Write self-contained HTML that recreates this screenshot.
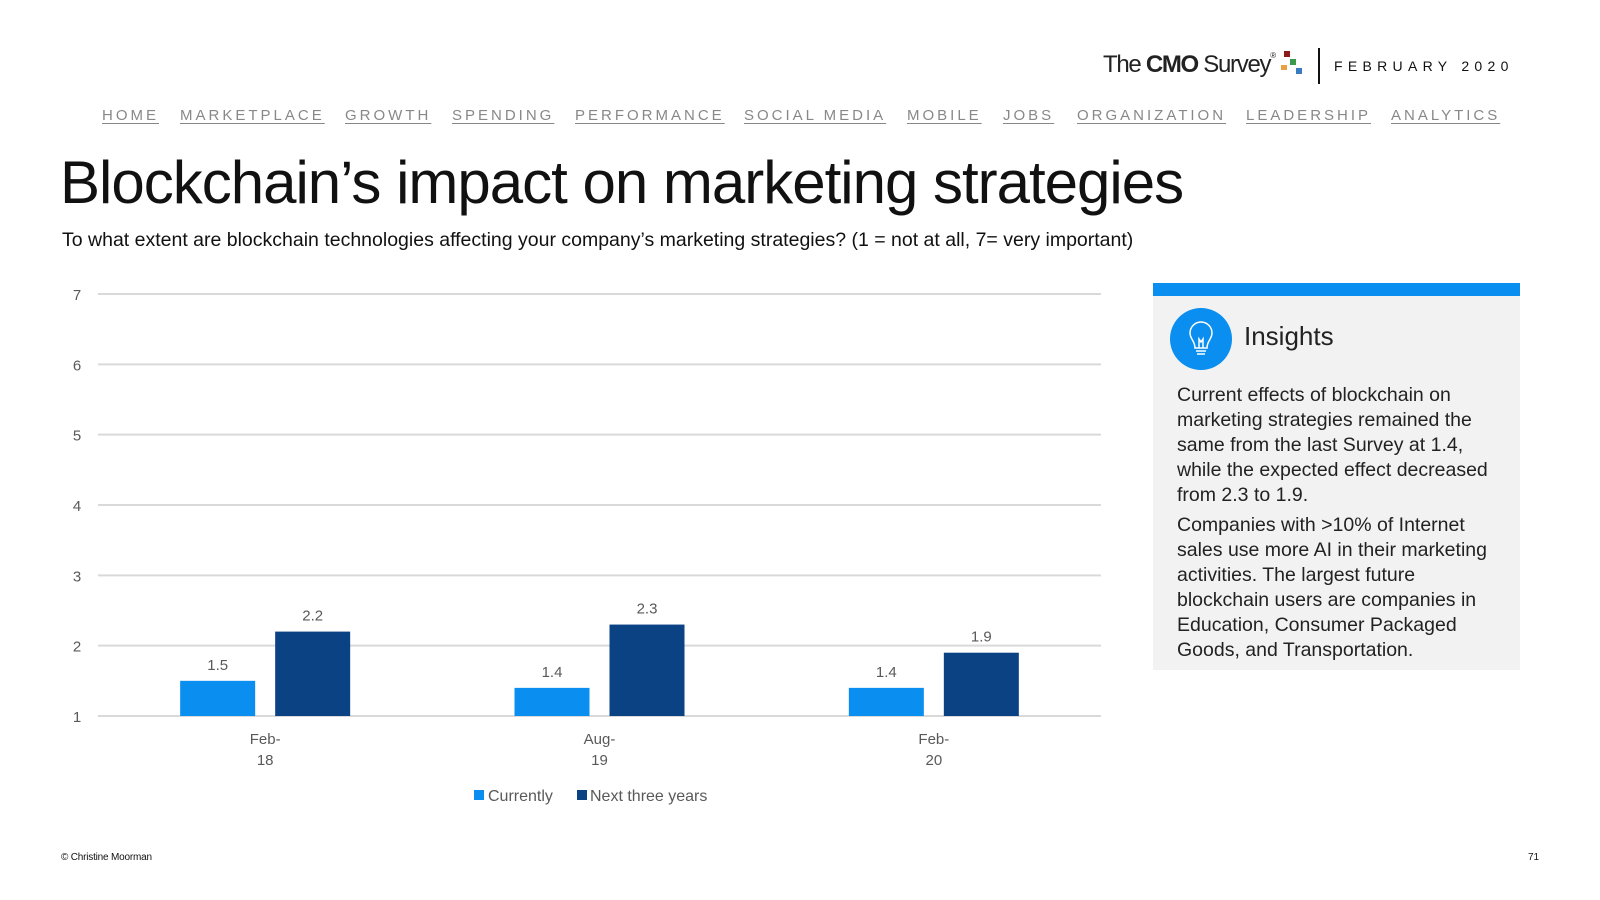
<!DOCTYPE html>
<html><head><meta charset="utf-8"><style>
body{margin:0;width:1600px;height:900px;background:#fff;font-family:"Liberation Sans",sans-serif;position:relative;overflow:hidden}
.a{position:absolute;white-space:nowrap}
.nav{top:107px;font-size:15px;letter-spacing:3px;color:#888;text-decoration:underline;text-underline-offset:3px}
</style></head><body>
<div class="a" style="left:1103px;top:51px;font-size:24px;letter-spacing:-1.3px;color:#222">The <b>CMO</b> Survey<span style="font-size:8px;vertical-align:top">®</span></div>
<div class="a" style="left:1278px;top:51px;width:30px;height:26px">
<div class="a" style="left:6px;top:0;width:6px;height:6px;background:#8b1a1a"></div>
<div class="a" style="left:12px;top:8px;width:6px;height:6px;background:#3a9a4a"></div>
<div class="a" style="left:3px;top:14px;width:6px;height:5px;background:#e8a040"></div>
<div class="a" style="left:18px;top:17px;width:6px;height:6px;background:#3a7ac0"></div></div>
<div class="a" style="left:1318px;top:48px;width:2px;height:36px;background:#111"></div>
<div class="a" style="left:1334px;top:58px;font-size:14px;letter-spacing:5.3px;color:#111">FEBRUARY 2020</div>
<div id="nav"></div>
<div class="a" style="left:60px;top:148px;font-size:60px;letter-spacing:-1px;color:#111">Blockchain’s impact on marketing strategies</div>
<div class="a" style="left:62px;top:229px;font-size:19.5px;color:#111">To what extent are blockchain technologies affecting your company’s marketing strategies? (1 = not at all, 7= very important)</div>
<svg class="a" style="left:0;top:0" width="1600" height="900" id="chart"></svg>
<div class="a" style="left:1153px;top:283px;width:367px;height:387px;background:#f2f2f2">
<div class="a" style="left:0;top:0;width:367px;height:13px;background:#0a8ef0"></div>
<div class="a" style="left:17px;top:25px;width:62px;height:62px;border-radius:50%;background:#0a8ef0">
<svg width="62" height="62"><path d="M25 40 C25 33 20 31 20 25 A11 11 0 0 1 42 25 C42 31 37 33 37 40 Z M26 43 H36 M27 46 H35 M29 40 L29 31 L31 34 L33 31 L33 40" fill="none" stroke="#fff" stroke-width="1.5"/></svg></div>
<div class="a" style="left:91px;top:38px;font-size:26px;color:#222">Insights</div>
<div class="a" style="left:24px;top:100px;width:335px;font-size:19.5px;line-height:25px;color:#222;white-space:normal">
<p style="margin:0 0 5px">Current effects of blockchain on marketing strategies remained the same from the last Survey at 1.4, while the expected effect decreased from 2.3 to 1.9.</p>
<p style="margin:0">Companies with &gt;10% of Internet sales use more AI in their marketing activities. The largest future blockchain users are companies in Education, Consumer Packaged Goods, and Transportation.</p></div></div>
<div class="a" style="left:61px;top:852px;font-size:10px;letter-spacing:-0.2px;color:#111">© Christine Moorman</div>
<div class="a" style="left:1528px;top:852px;font-size:10px;color:#111">71</div>
<script>
const navItems=["HOME","MARKETPLACE","GROWTH","SPENDING","PERFORMANCE","SOCIAL MEDIA","MOBILE","JOBS","ORGANIZATION","LEADERSHIP","ANALYTICS"];
const navX=[102,180,345,452,575,744,907,1003,1077,1246,1391];
navItems.forEach((t,i)=>{const d=document.createElement('div');d.className='a nav';d.style.left=navX[i]+'px';d.textContent=t;


document.getElementById('nav').appendChild(d);});

const categories=[["Feb-","18"],["Aug-","19"],["Feb-","20"]];
const currently=[1.5,1.4,1.4];
const nextThree=[2.2,2.3,1.9];
const yTicks=[1,2,3,4,5,6,7];
const svg=document.getElementById('chart');const NS='http://www.w3.org/2000/svg';
const x0=98,x1=1101,yB=716,yT=294;
const y=v=>yB-(v-1)/(6)*(yB-yT);
const cw=(x1-x0)/categories.length;const cx=i=>x0+cw*(i+0.5);
function el(t,a,txt){const e=document.createElementNS(NS,t);for(const k in a)e.setAttribute(k,a[k]);if(txt!=null)e.textContent=txt;svg.appendChild(e);return e;}
yTicks.forEach(v=>{
const g=el('line',{x1:x0,x2:x1,y1:y(v),y2:y(v),stroke:'#d9d9d9','stroke-width':2});


const t=el('text',{x:77,y:y(v)+6,'font-size':15,fill:'#595959','text-anchor':'middle','font-family':'Liberation Sans'},v);

});
const bw=75,off=47.5;
[[currently,'#0a8ef0',-1,'bar-currently'],[nextThree,'#0a4284',1,'bar-next']].forEach(([arr,col,s,nm])=>{
arr.forEach((v,i)=>{const bx=cx(i)+s*off-bw/2;
const r=el('rect',{x:bx,y:y(v),width:bw,height:yB-y(v),fill:col});


const t=el('text',{x:bx+bw/2,y:y(v)-11,'font-size':15,fill:'#595959','text-anchor':'middle','font-family':'Liberation Sans'},v.toFixed(1));

});});
categories.forEach((c,i)=>{c.forEach((s,j)=>{const t=el('text',{x:cx(i),y:744+j*21,'font-size':15,fill:'#595959','text-anchor':'middle','font-family':'Liberation Sans'},s);

});});
const l1=el('rect',{x:474,y:790,width:10,height:10,fill:'#0a8ef0'});


const lt1=el('text',{x:488,y:801,'font-size':16,fill:'#595959','font-family':'Liberation Sans'},'Currently');


const l2=el('rect',{x:577,y:790,width:10,height:10,fill:'#0a4284'});


const lt2=el('text',{x:590,y:801,'font-size':16,fill:'#595959','font-family':'Liberation Sans'},'Next three years');


</script>
</body></html>
